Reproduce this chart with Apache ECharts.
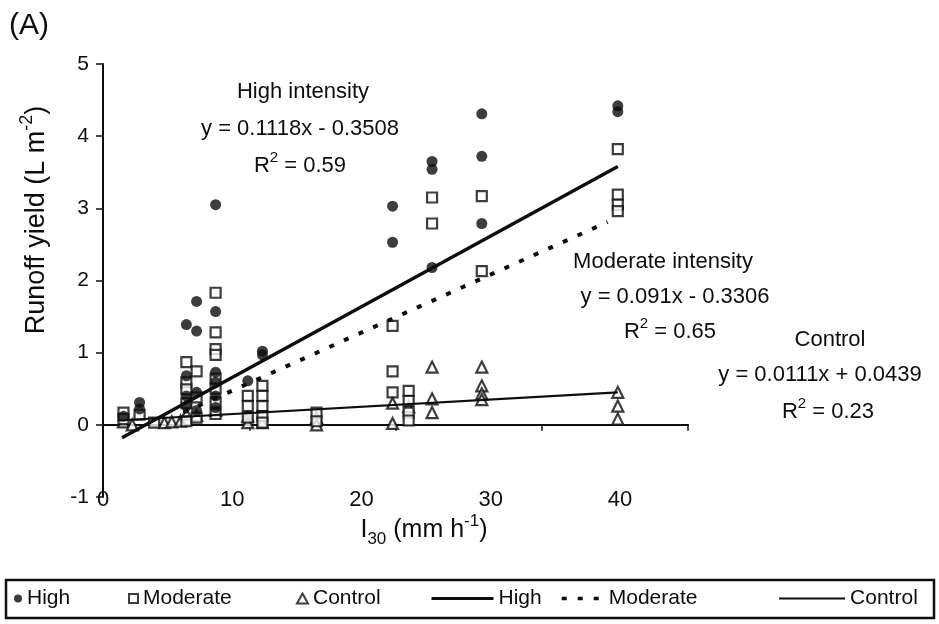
<!DOCTYPE html>
<html>
<head>
<meta charset="utf-8">
<script src="https://cdn.jsdelivr.net/npm/echarts@6/dist/echarts.min.js"></script>
<style>
html,body{margin:0;padding:0;background:#fff;}
#c{width:939px;height:624px;}
</style>
</head>
<body>
<div id="c"></div>
<script>
// ---- data ----
const xTicks = [0, 10, 20, 30, 40];
const yTicks = [-1, 0, 1, 2, 3, 4, 5];

const highPts = [
  [1.4,0.12],[2.5,0.31],[2.5,0.22],
  [5.7,1.39],[5.7,0.68],[5.7,0.40],[5.7,0.26],
  [6.4,1.71],[6.4,1.30],[6.4,0.45],[6.4,0.20],
  [7.7,3.05],[7.7,1.57],[7.7,0.73],[7.7,0.59],[7.7,0.40],[7.7,0.24],
  [9.9,0.61],[10.9,1.02],[10.9,0.97],
  [19.8,3.03],[19.8,2.53],
  [22.5,3.65],[22.5,3.54],[22.5,2.18],
  [25.9,4.31],[25.9,3.72],[25.9,2.79],
  [35.2,4.42],[35.2,4.34]
];
const moderatePts = [
  [1.4,0.17],[1.4,0.08],[2.5,0.14],[3.5,0.03],
  [5.7,0.87],[5.7,0.59],[5.7,0.49],[5.7,0.30],[5.7,0.05],
  [6.4,0.74],[6.4,0.38],[6.4,0.10],
  [7.7,1.83],[7.7,1.28],[7.7,1.05],[7.7,0.97],[7.7,0.64],[7.7,0.50],[7.7,0.31],[7.7,0.15],
  [9.9,0.40],[9.9,0.26],[9.9,0.10],
  [10.9,0.54],[10.9,0.40],[10.9,0.26],[10.9,0.12],[10.9,0.03],
  [14.6,0.17],[14.6,0.05],
  [19.8,1.37],[19.8,0.74],[19.8,0.45],
  [20.9,0.47],[20.9,0.33],[20.9,0.17],[20.9,0.06],
  [22.5,3.15],[22.5,2.79],
  [25.9,3.17],[25.9,2.13],
  [35.2,3.82],[35.2,3.19],[35.2,3.05],[35.2,2.96]
];
const controlPts = [
  [1.4,0.04],[2.0,0.0],[4.2,0.03],[4.7,0.04],[5.3,0.05],
  [5.7,0.15],[6.4,0.13],[7.7,0.20],
  [9.9,0.12],[9.9,0.03],[10.9,0.03],
  [14.6,0.10],[14.6,0.0],
  [19.8,0.30],[19.8,0.02],[20.9,0.25],
  [22.5,0.80],[22.5,0.36],[22.5,0.17],
  [25.9,0.80],[25.9,0.54],[25.9,0.43],[25.9,0.35],
  [35.2,0.45],[35.2,0.26],[35.2,0.08]
];
// fitted lines (end points)
const highFit = [[1.3,-0.18],[35.2,3.58]];
const moderateFit = [[5.5,0.17],[34.5,2.81]];
const controlFit = [[1.0,0.06],[35.2,0.45]];

const FONT = '"Liberation Sans", Arial, Helvetica, sans-serif';
const INK = '#0d0d0d';

const chart = echarts.init(document.getElementById('c'));

function txt(x, y, text, size, extra) {
  return Object.assign({
    type: 'text', x: x, y: y, z: 50,
    style: { text: text, font: size + 'px ' + FONT, fill: INK, align: 'center', verticalAlign: 'middle' }
  }, extra || {});
}
function richTxt(x, y, text, size, extra) {
  const e = {
    type: 'text', x: x, y: y, z: 50,
    style: {
      text: text, fill: INK, align: 'center', verticalAlign: 'middle',
      rich: {
        a: { fontSize: size, fontFamily: FONT, fill: INK, lineHeight: size + 10, verticalAlign: 'middle' },
        sup: { fontSize: Math.round(size * 0.68), fontFamily: FONT, fill: INK, lineHeight: size + 10, verticalAlign: 'top' },
        sub: { fontSize: Math.round(size * 0.68), fontFamily: FONT, fill: INK, lineHeight: size + 10, verticalAlign: 'bottom' }
      }
    }
  };
  return Object.assign(e, extra || {});
}

const legendText = { fontFamily: FONT, fontSize: 21, color: INK };
function leg(name, left, w, h, lineWidth) {
  const l = {
    data: [name], left: left, top: 588, itemWidth: w, itemHeight: h, itemGap: 4,
    textStyle: legendText, padding: 0,
    formatter: n => n.replace(' fit', '')
  };
  if (lineWidth) {
    l.itemStyle = { opacity: 0 };
    l.lineStyle = { width: lineWidth };
  }
  return l;
}

const option = {
  animation: false,
  backgroundColor: '#fff',
  grid: [
    { left: 103, right: 251, top: 64, bottom: 127 },
    { left: 103, right: 319, top: 64, bottom: 142 }
  ],
  xAxis: [
    {
      gridIndex: 0, type: 'value', min: xTicks[0], max: xTicks[xTicks.length - 1], interval: 10,
      axisLine: { onZero: true, lineStyle: { color: INK, width: 2 } },
      axisTick: { show: true, inside: false, length: 6, lineStyle: { color: INK, width: 1.5 } },
      axisLabel: { show: false }, splitLine: { show: false }
    },
    {
      gridIndex: 1, type: 'value', min: xTicks[0], max: xTicks[xTicks.length - 1], interval: 10,
      axisLine: { show: false }, axisTick: { show: false }, splitLine: { show: false },
      axisLabel: { show: true, fontFamily: FONT, fontSize: 22, color: INK, margin: 7 }
    }
  ],
  yAxis: [
    {
      gridIndex: 0, type: 'value', min: yTicks[0], max: yTicks[yTicks.length - 1], interval: 1,
      axisLine: { show: true, onZero: false, lineStyle: { color: INK, width: 2 } },
      axisTick: { show: true, inside: false, length: 7, lineStyle: { color: INK, width: 1.5 } },
      axisLabel: { fontFamily: FONT, fontSize: 21, color: INK, margin: 14 },
      splitLine: { show: false }
    },
    { gridIndex: 1, type: 'value', min: 0, max: 1, show: false }
  ],
  legend: [
    leg('High', 14, 8, 8),
    leg('Moderate', 128, 9, 9),
    leg('Control', 296, 11, 10),
    leg('High fit', 430, 62, 10, 3),
    leg('Moderate fit', 560, 42, 10, 3.5),
    leg('Control fit', 778, 66, 10, 2.2)
  ],
  series: [
    { name: 'High', type: 'scatter', xAxisIndex: 0, yAxisIndex: 0, data: highPts,
      symbol: 'circle', symbolSize: 11, itemStyle: { color: INK }, z: 5 },
    { name: 'Moderate', type: 'scatter', xAxisIndex: 0, yAxisIndex: 0, data: moderatePts,
      symbol: 'rect', symbolSize: 10, itemStyle: { color: '#fff', borderColor: INK, borderWidth: 2.2 }, z: 4 },
    { name: 'Control', type: 'scatter', xAxisIndex: 0, yAxisIndex: 0, data: controlPts,
      symbol: 'triangle', symbolSize: 11, itemStyle: { color: '#fff', borderColor: INK, borderWidth: 2.2 }, z: 3 },
    { name: 'High fit', type: 'line', xAxisIndex: 0, yAxisIndex: 0, data: highFit, symbol: 'none',
      lineStyle: { color: INK, width: 3.4, type: 'solid' }, itemStyle: { color: INK }, z: 6 },
    { name: 'Moderate fit', type: 'line', xAxisIndex: 0, yAxisIndex: 0, data: moderateFit, symbol: 'none',
      lineStyle: { color: INK, width: 4, type: [5, 11] }, itemStyle: { color: INK }, z: 6 },
    { name: 'Control fit', type: 'line', xAxisIndex: 0, yAxisIndex: 0, data: controlFit, symbol: 'none',
      lineStyle: { color: INK, width: 2.2, type: 'solid' }, itemStyle: { color: INK }, z: 6 }
  ],
  graphic: [
    txt(29, 26, '(A)', 30),
    richTxt(37, 220, '{a|Runoff yield (L m}{sup|-2}{a|)}', 27, { rotation: Math.PI / 2 }),
    richTxt(424, 530, '{a|I}{sub|30}{a| (mm h}{sup|-1}{a|)}', 25),
    txt(303, 92, 'High intensity', 22),
    txt(300, 129, 'y = 0.1118x - 0.3508', 22),
    richTxt(300, 166, '{a|R}{sup|2}{a| = 0.59}', 22),
    txt(663, 262, 'Moderate intensity', 22),
    txt(675, 297, 'y = 0.091x - 0.3306', 22),
    richTxt(670, 332, '{a|R}{sup|2}{a| = 0.65}', 22),
    txt(830, 340, 'Control', 22),
    txt(820, 375, 'y = 0.0111x + 0.0439', 22),
    richTxt(828, 412, '{a|R}{sup|2}{a| = 0.23}', 22),
    { type: 'rect', shape: { x: 6, y: 580, width: 928, height: 38 },
      style: { fill: 'none', stroke: INK, lineWidth: 2.5 }, z: 40 }
  ]
};
chart.setOption(option);
</script>
</body>
</html>
